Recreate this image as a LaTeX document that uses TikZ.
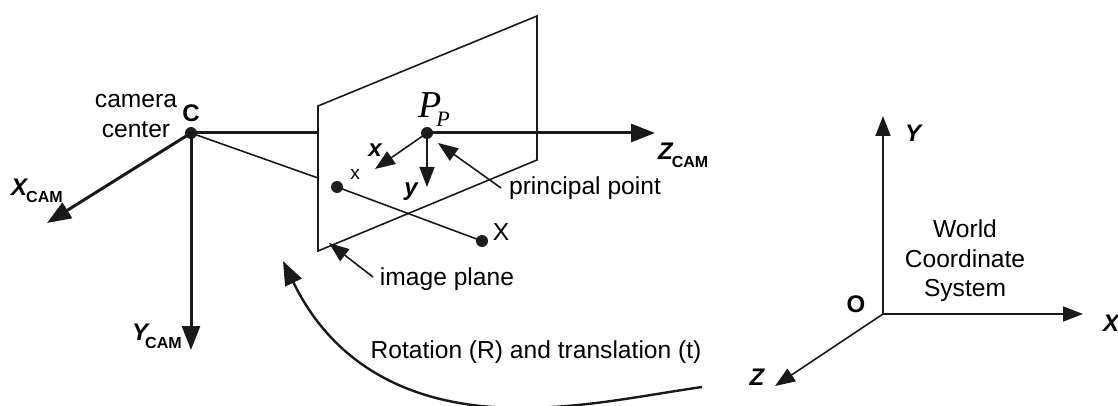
\documentclass[tikz,border=0pt]{standalone}
\usepackage{fontspec}
\setmainfont{Liberation Sans}
\newfontfamily\serifpp{Liberation Serif}
\usetikzlibrary{arrows.meta}
\newcommand{\camsub}[2]{{\fontsize{24}{24}\bfseries\itshape #1}\kern#2pt\raisebox{-8pt}{\fontsize{16}{16}\bfseries CAM}}

\begin{document}
\begin{tikzpicture}[
    x=1pt, y=-1pt,
    every node/.style={font=\fontsize{24.6}{29.5}\selectfont, align=center, inner sep=0pt},
    dotpt/.style={circle, fill=black!88, minimum size=12pt},
    thickarr/.style={-{Triangle[length=24pt, width=18pt]}, line width=3pt, color=black!90},
    thinarr/.style={-{Triangle[length=20pt, width=15pt]}, line width=1.6pt, color=black!90},
    wire/.style={line width=1.6pt, color=black!90},
    axlab/.style={font=\fontsize{24}{24}\bfseries\itshape\selectfont},
    boldlab/.style={font=\fontsize{24}{24}\bfseries\selectfont}
]
\useasboundingbox (0,0) rectangle (1118,406);

% Nodes
\node[dotpt] (camC) at (191,133) {};
\node[dotpt] (princ) at (427,133) {};
\node[dotpt] (imgx) at (337,187) {};
\node[dotpt] (worldX) at (482,241) {};
\coordinate (orig) at (883,314);

\node[boldlab] (labC) at (191,113) {C};
\node (labcenter) at (136,116) {camera\\center};
\node[anchor=base west] (labXcam) at (11,195) {\camsub{X}{-1}};
\node[anchor=base west] (labYcam) at (132,340) {\camsub{Y}{-3}};
\node[anchor=base west] (labZcam) at (658,160) {\camsub{Z}{-1}};
\node[anchor=base west, font=\fontsize{38}{38}\serifpp\itshape\selectfont] (labPP) at (418,118)
    {P\kern-5pt\raisebox{-9pt}{\fontsize{22}{22}\selectfont P}};
\node[axlab] (labx) at (375,150) {x};
\node[axlab] (laby) at (411,192) {y};
\node[font=\fontsize{19}{19}\selectfont] (labimgx) at (355,174) {x};
\node (labworldX) at (501,232) {X};
\node (labprinc) at (585,188) {principal point};
\node (labplane) at (447,279) {image plane};
\node (labrot) at (536,352) {Rotation (R) and translation (t)};
\node (labworld) at (965,261) {World\\Coordinate\\System};
\node[boldlab] (labO) at (856,304) {O};
\node[axlab] (labY) at (913,133) {Y};
\node[axlab, anchor=west] (labX) at (1103,323) {X};
\node[axlab] (labZ) at (757,377) {Z};

% Image plane
\coordinate (planeTL) at (318,106);
\coordinate (planeTR) at (537,16);
\coordinate (planeBR) at (537,160);
\coordinate (planeBL) at (318,251);
\draw[wire, line join=miter] (planeTL) -- (planeTR) -- (planeBR) -- (planeBL) -- cycle;

% Camera axes
\coordinate (xcamtip) at (47,223);
\coordinate (ycamtip) at (191,350);
\coordinate (zcamtip) at (655,133);
\coordinate (planeC) at (318,133);
\coordinate (rayhit) at (318,178);
\draw[thickarr] (camC.center) -- (xcamtip);
\draw[thickarr] (camC.center) -- (ycamtip);
\draw[line width=3pt, color=black!90] (camC.center) -- (planeC);
\draw[thickarr] (princ.center) -- (zcamtip);
\draw[wire] (camC.center) -- (rayhit);
\draw[wire] (imgx.center) -- (worldX.center);

% Image axes
\coordinate (xtip) at (375,169);
\coordinate (ytip) at (427,187);
\draw[thinarr] (princ.center) -- (xtip);
\draw[thinarr] (princ.center) -- (ytip);

% Callouts
\coordinate (princfrom) at (501,188);
\coordinate (princtip) at (438,143);
\coordinate (planefrom) at (373,277);
\coordinate (planetip) at (329,243);
\draw[thinarr] (princfrom) -- (princtip);
\draw[thinarr] (planefrom) -- (planetip);

% Rotation curve
\coordinate (rotfrom) at (702,387);
\coordinate (rottip) at (283,261);
\draw[-{Triangle[length=24pt, width=18pt]}, line width=2.4pt, color=black!90] (rotfrom)
    .. controls (640,396) and (585,408) .. (520,408)
    .. controls (415,408) and (335,368) .. (rottip);

% World axes
\coordinate (ytipw) at (883,116);
\coordinate (xtipw) at (1083,314);
\coordinate (ztipw) at (775,386);
\draw[thinarr] (orig) -- (ytipw);
\draw[thinarr] (orig) -- (xtipw);
\draw[thinarr] (orig) -- (ztipw);

\end{tikzpicture}
\end{document}
